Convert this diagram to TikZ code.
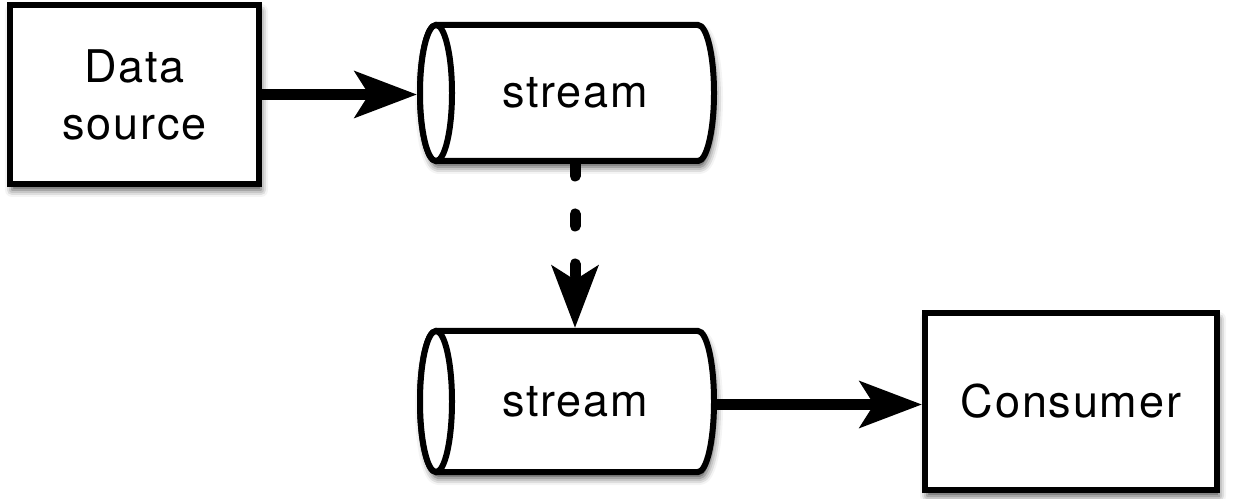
\documentclass[tikz,border=0pt]{standalone}
\usepackage{fontspec}
\setmainfont{TeX Gyre Heros}
\newfontfamily\labelfont[LetterSpace=4]{TeX Gyre Heros}
\usetikzlibrary{arrows.meta,calc,shadows.blur}

% cylinder outline: horizontal body with a full ellipse on the left end
\newcommand\cylrx{16pt}
\newcommand\halflw{3pt}
\newcommand\drawstream[1]{%
  \path[cylline, softshadow]
    let \p1=(#1.north west), \p2=(#1.south east),
        \n1={(\y1-\y2)/2-\halflw} in
    (\x1+\halflw+\cylrx,\y1-\halflw) -- (\x2-\halflw-\cylrx,\y1-\halflw)
    arc[start angle=90, end angle=-90, x radius=\cylrx, y radius=\n1]
    -- (\x1+\halflw+\cylrx,\y2+\halflw)
    arc[start angle=270, end angle=90, x radius=\cylrx, y radius=\n1]
    -- cycle;
  \draw[cylline]
    let \p1=(#1.north west), \p2=(#1.south east),
        \n1={(\y1-\y2)/2-\halflw} in
    (\x1+\halflw+\cylrx,{(\y1+\y2)/2}) ellipse[x radius=\cylrx, y radius=\n1];
}

\begin{document}
\begin{tikzpicture}[x=1pt, y=1pt,
  softshadow/.style={blur shadow={shadow xshift=2pt, shadow yshift=-6pt,
      shadow blur radius=7pt, shadow opacity=70}},
  box/.style={draw, line width=6pt, fill=white, softshadow, inner sep=0pt,
      align=center, font=\labelfont\fontsize{45}{57}\selectfont},
  cylbox/.style={inner sep=0pt, outer sep=0pt, minimum width=300pt},
  cylline/.style={draw, line width=6pt, fill=white},
  lbl/.style={inner sep=0pt, font=\labelfont\fontsize{45}{57}\selectfont},
  flow/.style={line width=11pt, draw=black,
      -{Stealth[length=62pt, width=46pt, inset=14pt, fill=black, color=black]}},
  dotflow/.style={flow, line cap=round, dash pattern=on 12pt off 38pt}]

\useasboundingbox (0,0) rectangle (1241,498);

% source box
\node[box, minimum width=249pt, minimum height=179pt] (ds) at (134.5,403.5)
  {Data\\source};

% the two streams
\node[cylbox, minimum height=142pt] (s1) at (567,405) {};
\drawstream{s1}
\node[lbl] (t1) at ([xshift=8pt]s1.center) {stream};

\node[cylbox, minimum height=147pt] (s2) at (567,96.5) {};
\drawstream{s2}
\node[lbl] (t2) at ([xshift=8pt]s2.center) {stream};

% consumer box
\node[box, minimum width=292pt, minimum height=177pt] (cons) at (1071,96.5)
  {Consumer};

% connectors
\draw[flow] (ds.east) -- (ds.east -| s1.west);
\draw[dotflow] (t1 |- s1.south) -- (t1 |- s2.north);
\draw[flow] ([yshift=-3pt]s2.east) -- ([yshift=-3pt]s2.east -| cons.west);
\end{tikzpicture}
\end{document}
